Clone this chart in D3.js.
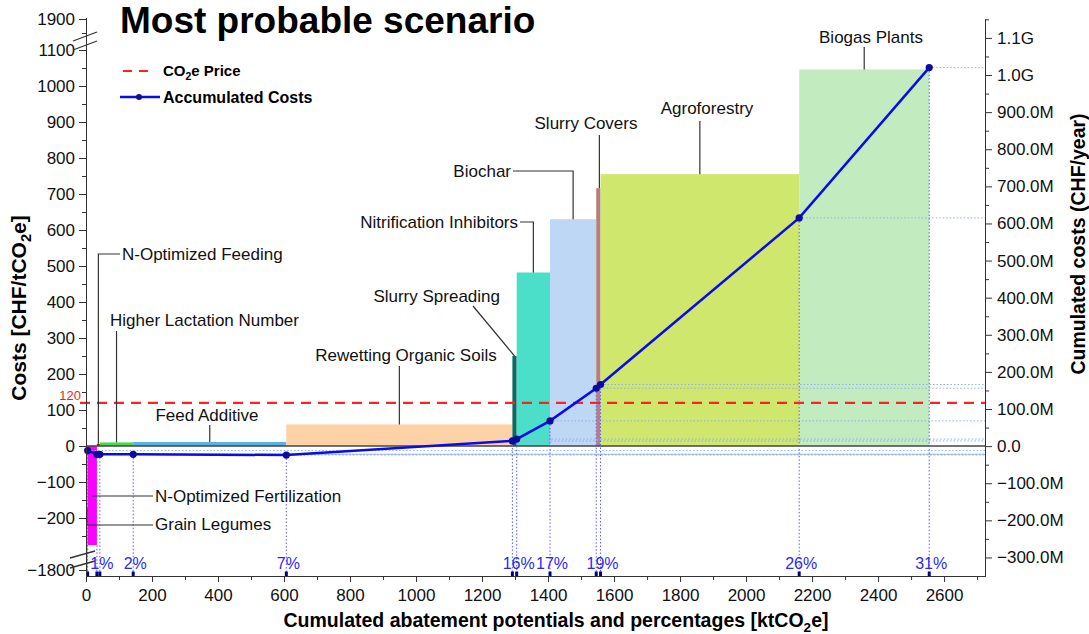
<!DOCTYPE html>
<html><head><meta charset="utf-8">
<script src="https://cdn.jsdelivr.net/npm/d3@7"></script>
<style>body{margin:0;background:#fff} svg{display:block;font-family:"Liberation Sans",Arial,sans-serif}</style>
</head><body><svg id="c" width="1089" height="634"></svg>
<script>
// ---------- DATA ----------
const measures = ["Grain Legumes","N-Optimized Fertilization","N-Optimized Feeding","Higher Lactation Number","Feed Additive","Rewetting Organic Soils","Slurry Spreading","Nitrification Inhibitors","Biochar","Slurry Covers","Agroforestry","Biogas Plants"];
const cumulatedPotential = [5, 33, 42, 143, 607, 1292, 1305, 1406, 1546, 1559, 2161, 2555]; // ktCO2e at end of each bar
const costs = [-1830, -275, 6, 10, 11, 60, 250, 482, 630, 716, 755, 1046]; // CHF/tCO2e
const accumulatedCosts = [-12e6, -22e6, -22e6, -22e6, -24e6, 14e6, 19e6, 68e6, 156e6, 166e6, 615e6, 1020e6]; // CHF/year
const percentLabels = ["", "", "1%", "2%", "7%", "", "16%", "17%", "", "19%", "26%", "31%"];
const barColors = ["#22e6e6","#ff00ff","#a31515","#4cd94c","#52b2ea","#fcd2a6","#0c6a62","#4bdfca","#bdd7f5","#b57f7f","#cfe76d","#c2ecbf"];
const co2Price = 120;
const leftMajorTicks = [-1800,-200,-100,0,100,200,300,400,500,600,700,800,900,1000,1100,1900];
const leftMinorTicks = [-250,-150,-50,50,150,250,350,450,550,650,750,850,950,1050,1850];
const rightMajorTicks = [-300e6,-200e6,-100e6,0,100e6,200e6,300e6,400e6,500e6,600e6,700e6,800e6,900e6,1000e6,1100e6];
const rightMinorTicks = [-250e6,-150e6,-50e6,50e6,150e6,250e6,350e6,450e6,550e6,650e6,750e6,850e6,950e6,1050e6,1150e6];
const xMajorTicks = [0,200,400,600,800,1000,1200,1400,1600,1800,2000,2200,2400,2600];
const xMinorTicks = [100,300,500,700,900,1100,1300,1500,1700,1900,2100,2300,2500,2700];

// ---------- SETUP ----------
const FF = '"Liberation Sans",Arial,sans-serif';
const svg = d3.select("#c");
const x = d3.scaleLinear().domain([0, 2724]).range([86, 985]);
const yL = d3.scaleLinear().domain([-1820,-1780,-290,1120,1850,1905]).range([576,564,550.4,42.8,33,17.6]).clamp(true);
const yR = d3.scaleLinear().domain([-350e6, 1151e6]).range([576, 19]);
const starts = [0, ...cumulatedPotential.slice(0,-1)];
const minus = s => String(s).replace("-", "\u2212");

// bars
svg.append("g").selectAll("rect").data(measures).join("rect")
  .attr("x",(d,i)=>x(starts[i]))
  .attr("width",(d,i)=>x(cumulatedPotential[i])-x(starts[i]))
  .attr("y",(d,i)=>Math.min(yL(0),yL(costs[i])))
  .attr("height",(d,i)=>Math.abs(yL(costs[i])-yL(0)))
  .attr("fill",(d,i)=>barColors[i]);

// zero line
svg.append("line").attr("x1",86).attr("x2",985).attr("y1",yL(0)).attr("y2",yL(0))
  .attr("stroke","#444").attr("stroke-width",1.3);

// CO2 price line
svg.append("line").attr("x1",80).attr("x2",985).attr("y1",yL(co2Price)).attr("y2",yL(co2Price))
  .attr("stroke","#ff2020").attr("stroke-width",2.2).attr("stroke-dasharray","10,7");
svg.append("text").attr("x",81).attr("y",yL(co2Price)-3).attr("text-anchor","end")
  .attr("fill","#ff1a1a").attr("font-size",13).text(co2Price);

// dotted guide lines
const pts = cumulatedPotential.map((k,i)=>[x(k), yR(accumulatedCosts[i])]);
const guides = svg.append("g");
pts.forEach(p=>{
  guides.append("line").attr("x1",p[0]).attr("x2",985).attr("y1",p[1]).attr("y2",p[1])
    .attr("stroke","#8fb0ee").attr("stroke-width",1).attr("stroke-dasharray","1.5,2");
  guides.append("line").attr("x1",p[0]).attr("x2",p[0]).attr("y1",p[1]).attr("y2",576)
    .attr("stroke","#5b5bff").attr("stroke-width",1).attr("stroke-dasharray","1.5,2");
  guides.append("rect").attr("x",p[0]-1.5).attr("y",571.5).attr("width",3).attr("height",4.5).attr("fill","#00008b");
});
// percent labels
svg.append("g").selectAll("text").data(percentLabels).join("text")
  .attr("x",(d,i)=>x(cumulatedPotential[i])+2).attr("y",569).attr("text-anchor","middle")
  .attr("fill","#2a2af2").attr("font-size",16).text(d=>d);

// accumulated line
svg.append("path").datum(pts).attr("d",d3.line()).attr("fill","none")
  .attr("stroke","#0a0aee").attr("stroke-width",2.5);
svg.append("g").selectAll("circle").data(pts).join("circle")
  .attr("cx",d=>d[0]).attr("cy",d=>d[1]).attr("r",3.6).attr("fill","#0c0c9c");

// callouts
const mid = i => x((starts[i]+cumulatedPotential[i])/2);
const topY = i => yL(costs[i]);
const callouts = [
 {i:11, tx:871, ty:43, a:"middle", p:i=>[[mid(i),47],[mid(i),topY(i)]]},
 {i:10, tx:707, ty:114, a:"middle", p:i=>[[mid(i),121],[mid(i),topY(i)]]},
 {i:9, tx:586, ty:129, a:"middle", p:i=>[[mid(i)+1,135],[mid(i)+1,topY(i)]]},
 {i:8, tx:511, ty:177, a:"end", p:i=>[[513,171],[mid(i),171],[mid(i),topY(i)]]},
 {i:7, tx:518, ty:228, a:"end", p:i=>[[520,222],[mid(i),222],[mid(i),topY(i)]]},
 {i:6, tx:500, ty:302, a:"end", p:i=>[[473,306],[mid(i),topY(i)]]},
 {i:5, tx:406, ty:361, a:"middle", p:i=>[[mid(i),366],[mid(i),topY(i)]]},
 {i:4, tx:207, ty:421, a:"middle", p:i=>[[mid(i),425],[mid(i),topY(i)]]},
 {i:3, tx:110, ty:326, a:"start", p:i=>[[mid(i),331],[mid(i),topY(i)]]},
 {i:2, tx:122, ty:260, a:"start", p:i=>[[120,254],[mid(i),254],[mid(i),topY(i)]]},
 {i:1, tx:155, ty:502, a:"start", p:i=>[[153,496],[mid(i),496]]},
 {i:0, tx:155, ty:530, a:"start", p:i=>[[153,525],[87,525],[87,508]]},
];
const cg = svg.append("g");
callouts.forEach(c=>{
  cg.append("path").attr("d",d3.line()(c.p(c.i))).attr("fill","none").attr("stroke","#333").attr("stroke-width",1.2);
  cg.append("text").attr("x",c.tx).attr("y",c.ty).attr("text-anchor",c.a).attr("font-size",17).attr("fill","#111").text(measures[c.i]);
});

// axes
function styleAxis(g){ g.attr("font-family",FF).attr("font-size",17); g.selectAll("line,path").attr("stroke","#333"); g.selectAll("text").attr("fill","#111"); }
svg.append("g").attr("transform","translate(86,0)")
  .call(d3.axisLeft(yL).tickValues(leftMajorTicks).tickSize(7).tickSizeOuter(0).tickPadding(4).tickFormat(minus)).call(styleAxis);
svg.append("g").attr("transform","translate(86,0)")
  .call(d3.axisLeft(yL).tickValues(leftMinorTicks).tickSize(4).tickSizeOuter(0).tickFormat("")).call(styleAxis);
const fmtR = v => v===0 ? "0.0" : (Math.abs(v)>=1e9 ? (v/1e9).toFixed(1)+"G" : minus((v/1e6).toFixed(1))+"M");
svg.append("g").attr("transform","translate(985,0)")
  .call(d3.axisRight(yR).tickValues(rightMajorTicks).tickSize(7).tickSizeOuter(0).tickPadding(5).tickFormat(fmtR)).call(styleAxis);
svg.append("g").attr("transform","translate(985,0)")
  .call(d3.axisRight(yR).tickValues(rightMinorTicks).tickSize(4).tickSizeOuter(0).tickFormat("")).call(styleAxis);
svg.append("g").attr("transform","translate(0,576)")
  .call(d3.axisBottom(x).tickValues(xMajorTicks).tickSize(6).tickSizeOuter(0).tickPadding(7).tickFormat(d=>d)).call(styleAxis);
svg.append("g").attr("transform","translate(0,576)")
  .call(d3.axisBottom(x).tickValues(xMinorTicks).tickSize(4).tickSizeOuter(0).tickFormat("")).call(styleAxis);

// axis break marks
[[[73,41],[97,32]],[[73,50],[97,41]],[[70,558],[95,551]],[[70,568],[95,561]]].forEach(s=>{
  svg.append("path").attr("d",d3.line()(s)).attr("stroke","#333").attr("stroke-width",1.3);
});

// titles
svg.append("text").attr("x",120).attr("y",33).attr("font-size",37).attr("font-weight","bold").attr("fill","#000").text("Most probable scenario");
function co2Text(sel, before, after, size){
  sel.append("tspan").text(before);
  sel.append("tspan").attr("font-size",size*0.7).attr("dy",size*0.25).text("2");
  sel.append("tspan").attr("dy",-size*0.25).text(after);
}
const xt = svg.append("text").attr("x",556).attr("y",627).attr("text-anchor","middle").attr("font-size",19.5).attr("font-weight","bold");
co2Text(xt,"Cumulated abatement potentials and percentages [ktCO","e]",19.5);
const yt = svg.append("text").attr("transform","translate(26,308) rotate(-90)").attr("text-anchor","middle").attr("font-size",21).attr("font-weight","bold");
co2Text(yt,"Costs [CHF/tCO","e]",21);
svg.append("text").attr("transform","translate(1085,244) rotate(-90)").attr("text-anchor","middle").attr("font-size",19.5).attr("font-weight","bold").text("Cumulated costs (CHF/year)");

// legend
svg.append("line").attr("x1",123).attr("x2",150).attr("y1",71).attr("y2",71).attr("stroke","#ff2020").attr("stroke-width",2).attr("stroke-dasharray","9,7");
const l1 = svg.append("text").attr("x",163).attr("y",76).attr("font-size",15).attr("font-weight","bold");
co2Text(l1,"CO","e Price",15);
svg.append("line").attr("x1",120).attr("x2",160).attr("y1",97).attr("y2",97).attr("stroke","#0a0aee").attr("stroke-width",2.5);
svg.append("circle").attr("cx",139).attr("cy",97).attr("r",3).attr("fill","#0c0c9c");
svg.append("text").attr("x",163).attr("y",103).attr("font-size",16).attr("font-weight","bold").text("Accumulated Costs");
</script></body></html>
